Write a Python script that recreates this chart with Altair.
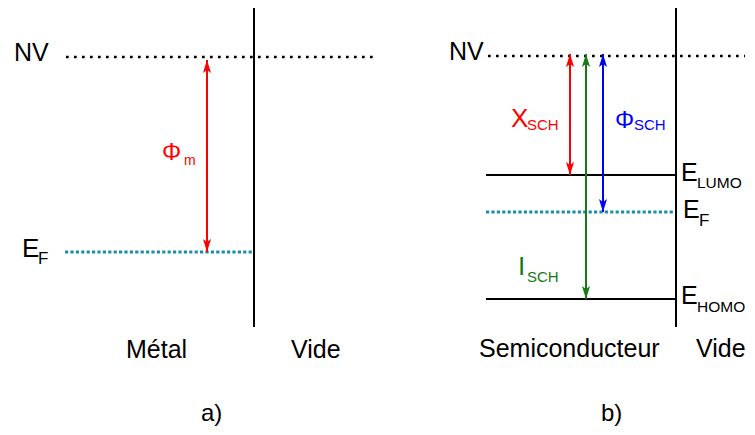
import altair as alt
import pandas as pd

# ---- diagram data (positions in diagram units, y grows downward) ----
level_names = ["NV_a", "EF_a", "NV_b", "LUMO_b", "EF_b", "HOMO_b"]
level_x0 = [66, 65, 488, 486, 486, 486]
level_x1 = [378, 254, 745, 676, 676, 676]
level_y = [57, 252, 56, 175, 212, 299]
level_style = ["vide", "fermi", "vide", "band", "fermi", "band"]

interface_x = [254, 676]
interface_top = [8, 8]
interface_bottom = [327, 327]

arrow_names = ["phi_m", "chi_sch", "i_sch", "phi_sch"]
arrow_x = [207, 570, 586, 603]
arrow_top = [60, 54, 54, 54]
arrow_bottom = [252, 175, 299, 212]
arrow_color = ["#ff0000", "#ff0000", "#177a17", "#0000ff"]

text_str = ["NV", "E", "F", "\u03a6", "m", "Métal", "Vide", "a)",
            "NV", "X", "SCH", "\u03a6", "SCH", "I", "SCH",
            "E", "LUMO", "E", "F", "E", "HOMO",
            "Semiconducteur", "Vide", "b)"]
text_x = [14, 22, 38, 162, 184, 126, 291, 201,
          449, 511, 527, 615, 634, 518, 527,
          681, 697, 683, 699, 681, 697,
          479, 696, 601]
text_y = [61, 257, 264, 160, 165, 358, 358, 421,
          60, 127, 130, 128, 130, 275, 282,
          181, 188, 218, 226, 304, 312,
          357, 357, 421]
text_size = [25, 26, 17, 24, 14, 25, 25, 24,
             25, 26, 15, 24, 15, 26, 15,
             25, 15.5, 25, 17, 25, 15.5,
             25, 25, 24]
text_color = ["#000000", "#000000", "#000000", "#ff0000", "#ff0000", "#000000", "#000000", "#000000",
              "#000000", "#ff0000", "#ff0000", "#0000ff", "#0000ff", "#177a17", "#177a17",
              "#000000", "#000000", "#000000", "#000000", "#000000", "#000000",
              "#000000", "#000000", "#000000"]

levels = pd.DataFrame({"name": level_names, "x0": level_x0, "x1": level_x1,
                       "y": level_y, "style": level_style})
interfaces = pd.DataFrame({"x": interface_x, "y0": interface_top, "y1": interface_bottom})
arrows = pd.DataFrame({"name": arrow_names, "x": arrow_x, "top": arrow_top,
                       "bottom": arrow_bottom, "color": arrow_color})
texts = pd.DataFrame({"t": text_str, "x": text_x, "y": text_y,
                      "size": text_size, "color": text_color})

xs = alt.Scale(domain=[8, 747], nice=False, zero=False)
ys = alt.Scale(domain=[8, 427], nice=False, zero=False, reverse=True)

def X(f):
    return alt.X(f, type="quantitative", scale=xs, axis=None)

def Y(f):
    return alt.Y(f, type="quantitative", scale=ys, axis=None)

vide = alt.Chart(levels).transform_filter(alt.datum.style == "vide").mark_rule(
    color="#000000", strokeWidth=2.7, strokeDash=[2.7, 5.3]
).encode(x=X("x0"), x2="x1", y=Y("y"))

fermi = alt.Chart(levels).transform_filter(alt.datum.style == "fermi").mark_rule(
    color="#1a8fab", strokeWidth=3, strokeDash=[3.2, 2.2]
).encode(x=X("x0"), x2="x1", y=Y("y"))

band = alt.Chart(levels).transform_filter(alt.datum.style == "band").mark_rule(
    color="#000000", strokeWidth=2
).encode(x=X("x0"), x2="x1", y=Y("y"))

walls = alt.Chart(interfaces).mark_rule(color="#000000", strokeWidth=2).encode(
    x=X("x"), y=Y("y0"), y2="y1")

shafts = alt.Chart(arrows).mark_rule(strokeWidth=2).encode(
    x=X("x"), y=Y("top"), y2="bottom",
    color=alt.Color("color:N", scale=None))

up_path = "M0,0 L0.9,2.9 L0,2.2 L-0.9,2.9 Z"
down_path = "M0,0 L0.9,-2.9 L0,-2.2 L-0.9,-2.9 Z"

heads_up = alt.Chart(arrows).mark_point(
    shape=up_path, filled=True, size=81, opacity=1, strokeWidth=0
).encode(x=X("x"), y=Y("top"), color=alt.Color("color:N", scale=None))

heads_down = alt.Chart(arrows).mark_point(
    shape=down_path, filled=True, size=81, opacity=1, strokeWidth=0
).encode(x=X("x"), y=Y("bottom"), color=alt.Color("color:N", scale=None))

labels = alt.Chart(texts).mark_text(
    align="left", baseline="alphabetic", font="Liberation Sans"
).encode(x=X("x"), y=Y("y"), text="t:N",
         size=alt.Size("size:Q", scale=None),
         color=alt.Color("color:N", scale=None))

chart = alt.layer(vide, fermi, band, walls, shafts, heads_up, heads_down, labels).properties(
    width=739, height=419, autosize=alt.AutoSizeParams(type="none"), padding=0,
    background="#ffffff"
).configure_view(stroke=None)

chart.save("out.html", embed_options={"renderer": "svg", "actions": False})
